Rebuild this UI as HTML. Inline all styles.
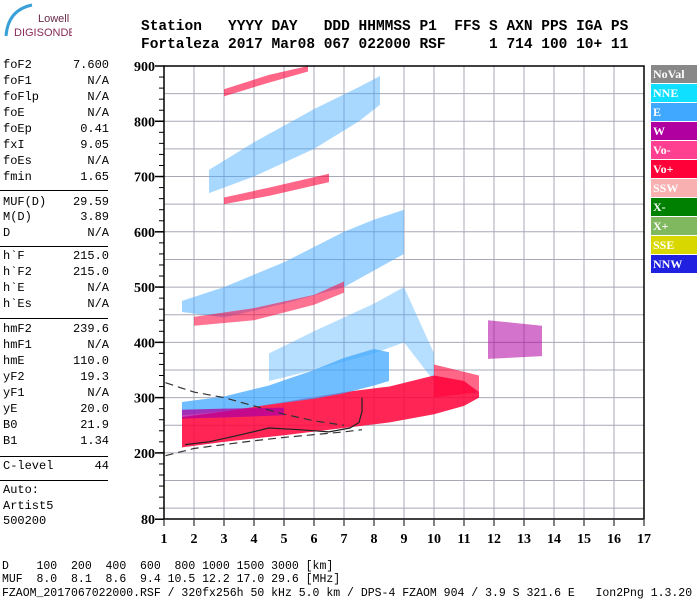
<!DOCTYPE html>
<html><head><meta charset="utf-8">
<style>
body{margin:0;background:#fff;width:700px;height:600px;overflow:hidden;position:relative;font-family:"Liberation Mono",monospace}
.t{position:absolute;white-space:pre;color:#000}
.lp{font-size:12px;left:3px;width:106px}
.lp span{position:absolute;right:0}
.hl{position:absolute;left:0;width:108px;height:0;border-top:1px solid #000}
.hdr{font-size:14.5px;font-weight:bold;left:141px}
.bot{font-size:11.5px;left:2px}
.leg{position:absolute;left:651px;width:46px;height:18px;color:#fff;font:bold 12px "Liberation Serif",serif;line-height:18px;padding-left:2px;box-sizing:border-box}
</style></head><body>
<svg style="position:absolute;left:2px;top:2px" width="70" height="40">
<path d="M4 34 Q6 8 30 3" stroke="#3aa0d8" stroke-width="3" fill="none"/>
<text x="36" y="20" font-family="Liberation Sans" font-size="11" fill="#6a2a4a">Lowell</text>
<text x="12" y="34" font-family="Liberation Sans" font-size="11" fill="#8a2a5a">DIGISONDE</text>
</svg>
<div class="t hdr" style="top:19px">Station   YYYY DAY   DDD HHMMSS P1  FFS S AXN PPS IGA PS</div>
<div class="t hdr" style="top:37px">Fortaleza 2017 Mar08 067 022000 RSF     1 714 100 10+ 11</div>
<div id="lp"></div>
<div class="t bot" style="top:560px">D    100  200  400  600  800 1000 1500 3000 [km]</div>
<div class="t bot" style="top:573px">MUF  8.0  8.1  8.6  9.4 10.5 12.2 17.0 29.6 [MHz]</div>
<div class="t bot" style="top:587px">FZAOM_2017067022000.RSF / 320fx256h 50 kHz 5.0 km / DPS-4 FZAOM 904 / 3.9 S 321.6 E   Ion2Png 1.3.20</div>
<div id="legend"></div>
<svg id="chart" style="position:absolute;left:0;top:0" width="700" height="600"></svg>
<script>
const params=[["foF2","7.600",66],["foF1","N/A",82],["foFlp","N/A",98],["foE","N/A",114],["foEp","0.41",130],["fxI","9.05",146],["foEs","N/A",162],["fmin","1.65",178],["MUF(D)","29.59",203],["M(D)","3.89",218],["D","N/A",234],["h`F","215.0",257],["h`F2","215.0",273],["h`E","N/A",289],["h`Es","N/A",305],["hmF2","239.6",330],["hmF1","N/A",346],["hmE","110.0",362],["yF2","19.3",378],["yF1","N/A",394],["yE","20.0",410],["B0","21.9",426],["B1","1.34",442],["C-level","44",467],["Auto:","",491],["Artist5","",507],["500200","",522]];
const lp=document.getElementById('lp');
params.forEach(p=>{const d=document.createElement('div');d.className='t lp';d.style.top=(p[2]-8)+'px';


d.innerHTML=p[0]+'<span>'+p[1]+'</span>';lp.appendChild(d);});
[190,246,318,456,480].forEach(y=>{const d=document.createElement('div');d.className='hl';d.style.top=y+'px';


lp.appendChild(d);});
const legNames=["NoVal","NNE","E","W","Vo-","Vo+","SSW","X-","X+","SSE","NNW"];
const legColors=["#888888","#10e0ff","#40a8ff","#b000a0","#ff4090","#ff0038","#f8b0b0","#008000","#80b860","#d8d800","#2020e0"];
const lg=document.getElementById('legend');
legNames.forEach((n,i)=>{const d=document.createElement('div');d.className='leg';d.style.top=(65+i*19)+'px';d.style.background=legColors[i];d.textContent=n;


lg.appendChild(d);});

// ---- chart data ----
const xTicks=[1,2,3,4,5,6,7,8,9,10,11,12,13,14,15,16,17];
const yTickLabels=[900,800,700,600,500,400,300,200,80];
const yGrid=[850,800,750,700,650,600,550,500,450,400,350,300,250,200,150,100];
const bandF0=[1.6,3,5,7,8.5,10,11,11.5], bandLo0=[210,220,232,245,255,270,285,300], bandHi0=[265,275,292,310,320,340,330,310];
const bandF1=[1.6,3,4.5,6,7,8,8.5], bandLo1=[268,275,287,298,308,322,330], bandHi1=[292,302,322,350,372,388,382];
const bandF2=[1.6,3,5], bandLo2=[262,264,268], bandHi2=[278,280,282];
const bandF3=[4.5,6,8,9,10], bandLo3=[330,350,380,400,330], bandHi3=[380,420,470,500,380];
const bandF4=[1.6,3,5,7,8,9], bandLo4=[455,445,470,500,530,560], bandHi4=[475,500,545,600,622,640];
const bandF5=[2,4,6,7], bandLo5=[430,440,468,490], bandHi5=[446,462,486,510];
const bandF6=[2.5,4,6,7.5,8.2], bandLo6=[670,700,750,800,830], bandHi6=[712,762,822,862,882];
const bandF7=[3,4.5,6.5], bandLo7=[650,665,690], bandHi7=[662,680,705];
const bandF8=[3,4.5,5.8], bandLo8=[845,870,890], bandHi8=[858,884,900];
const bandF9=[11.8,13.6], bandLo9=[370,375], bandHi9=[440,430];
const bandF10=[10,11.5], bandLo10=[300,310], bandHi10=[360,340];
const bands=[[bandF3,bandLo3,bandHi3,"#40a8ff",0.38],[bandF0,bandLo0,bandHi0,"#ff0038",0.85],[bandF10,bandLo10,bandHi10,"#ff0038",0.6],[bandF1,bandLo1,bandHi1,"#40a8ff",0.75],[bandF2,bandLo2,bandHi2,"#b000a0",0.75],[bandF4,bandLo4,bandHi4,"#40a8ff",0.5],[bandF5,bandLo5,bandHi5,"#ff0038",0.55],[bandF6,bandLo6,bandHi6,"#40a8ff",0.45],[bandF7,bandLo7,bandHi7,"#ff0038",0.6],[bandF8,bandLo8,bandHi8,"#ff0038",0.6],[bandF9,bandLo9,bandHi9,"#b000a0",0.55]];
const dashUpF=[1.05,2,3,4,5,6,7], dashUpH=[327,310,300,285,270,258,250];
const dashLoF=[1.05,2,3,4,5,6,7,7.6], dashLoH=[195,208,215,222,228,233,238,242];
const profF=[1.7,2.5,3.5,4.5,5.5,6.5,7.2,7.5,7.6,7.6], profH=[215,220,232,245,242,238,245,255,275,300];

const X=f=>164+(f-1)*30, Y=h=>66+(900-h)*0.5527;
const svg=document.getElementById('chart'), NS='http://www.w3.org/2000/svg';
function el(tag,a,name){const e=document.createElementNS(NS,tag);for(const k in a)e.setAttribute(k,a[k]);


svg.appendChild(e);return e;}
yGrid.forEach(h=>el('line',{x1:164,x2:644,y1:Y(h),y2:Y(h),stroke:'#a8a8b8','stroke-width':1},'grid-line-h'));
xTicks.forEach(f=>{el('line',{x1:X(f),x2:X(f),y1:66,y2:519,stroke:'#a8a8b8','stroke-width':1},'grid-line-v');
el('line',{x1:X(f),x2:X(f),y1:520,y2:526,stroke:'#000'},'x-tick');
const t=el('text',{x:X(f),y:543,'text-anchor':'middle','font-family':'Liberation Serif','font-weight':'bold','font-size':14},'x-tick-label');t.textContent=f;});
bands.forEach(b=>{const [F,L,H,c,o]=b;let pts=F.map((f,i)=>X(f)+','+Y(H[i]));for(let i=F.length-1;i>=0;i--)pts.push(X(F[i])+','+Y(L[i]));
el('polygon',{points:pts.join(' '),fill:c,opacity:o},'echo-trace');});
const pl=(F,H)=>F.map((f,i)=>X(f)+','+Y(H[i])).join(' ');
el('polyline',{points:pl(dashUpF,dashUpH),fill:'none',stroke:'#333','stroke-dasharray':'8,5','stroke-width':1.2},'model-curve-upper');
el('polyline',{points:pl(dashLoF,dashLoH),fill:'none',stroke:'#333','stroke-dasharray':'8,5','stroke-width':1.2},'model-curve-lower');
el('polyline',{points:pl(profF,profH),fill:'none',stroke:'#222','stroke-width':1.2},'true-height-profile');
el('rect',{x:164,y:66,width:480,height:453,fill:'none',stroke:'#000','stroke-width':1.5},'plot-frame');
for(let h=100;h<=900;h+=20){el('line',{x1:159,x2:164,y1:Y(h),y2:Y(h),stroke:'#000'},'y-minor-tick');}
yTickLabels.forEach(h=>{el('line',{x1:155,x2:164,y1:Y(h),y2:Y(h),stroke:'#000','stroke-width':1.5},'y-tick');
const t=el('text',{x:155,y:Y(h)+5,'text-anchor':'end','font-family':'Liberation Serif','font-weight':'bold','font-size':14},'y-tick-label');t.textContent=h;});
</script>
</body></html>
